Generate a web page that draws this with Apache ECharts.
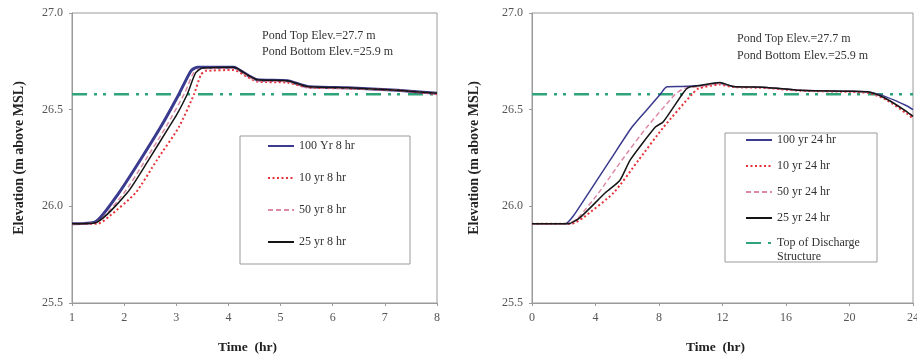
<!DOCTYPE html>
<html>
<head>
<meta charset="utf-8">
<script src="https://cdn.jsdelivr.net/npm/echarts@6/dist/echarts.min.js"></script>
<style>
  html, body { margin: 0; padding: 0; background: #fff; }
  #chart { width: 917px; height: 357px; }
</style>
</head>
<body>
<div id="chart"></div>
<script>
// ---- data ----
const yTicks = [25.5, 26.0, 26.5, 27.0];
const dischargeTop = 26.58;

// 8 hr storms (left panel)
const t100_8 = [1, 1.45, 1.9, 2.31, 2.7, 3.05, 3.28, 3.4, 4.1, 4.36, 4.55, 5.13, 5.51, 6.28, 7.24, 8];
const e100_8 = [25.91, 25.92, 26.07, 26.24, 26.41, 26.58, 26.7, 26.72, 26.72, 26.68, 26.655, 26.65, 26.62, 26.613, 26.6, 26.585];
const t10_8 = [1, 1.5, 1.7, 2.22, 2.63, 3.05, 3.34, 3.47, 3.56, 4.1, 4.36, 4.55, 5.13, 5.51, 6.28, 7.24, 8];
const e10_8 = [25.91, 25.91, 25.945, 26.07, 26.24, 26.41, 26.58, 26.68, 26.7, 26.705, 26.67, 26.645, 26.64, 26.615, 26.61, 26.6, 26.58];
const t50_8 = [1, 1.45, 2.0, 2.41, 2.8, 3.15, 3.33, 3.45, 4.1, 4.36, 4.55, 5.13, 5.51, 6.28, 7.24, 8];
const e50_8 = [25.91, 25.915, 26.07, 26.24, 26.41, 26.58, 26.69, 26.71, 26.715, 26.675, 26.65, 26.645, 26.617, 26.61, 26.6, 26.583];
const t25_8 = [1, 1.45, 2.06, 2.47, 2.86, 3.0, 3.21, 3.37, 3.5, 4.1, 4.36, 4.55, 5.13, 5.51, 6.28, 7.24, 8];
const e25_8 = [25.91, 25.915, 26.07, 26.24, 26.41, 26.47, 26.58, 26.69, 26.715, 26.72, 26.68, 26.655, 26.65, 26.62, 26.613, 26.6, 26.585];

// 24 hr storms (right panel)
const t100_24 = [0, 2.1, 2.6, 3.57, 4.93, 6.3, 7.24, 8.08, 8.5, 9.45, 10.58, 11.84, 12.66, 14.78, 16.88, 20.03, 21.29, 22.34, 23.6, 24];
const e100_24 = [25.91, 25.91, 25.95, 26.07, 26.24, 26.41, 26.5, 26.58, 26.618, 26.62, 26.625, 26.636, 26.62, 26.615, 26.6, 26.595, 26.59, 26.565, 26.52, 26.5];
const t10_24 = [0, 2.5, 3.2, 5.14, 6.72, 8.29, 10.08, 10.5, 11.84, 12.66, 14.78, 16.88, 20.03, 21.29, 22.34, 23.6, 24];
const e10_24 = [25.91, 25.91, 25.94, 26.07, 26.24, 26.41, 26.58, 26.61, 26.63, 26.617, 26.612, 26.598, 26.592, 26.585, 26.55, 26.48, 26.455];
const t50_24 = [0, 2.3, 2.9, 4.2, 5.67, 7.24, 9.03, 9.6, 10.58, 11.84, 12.66, 14.78, 16.88, 20.03, 21.29, 22.34, 23.6, 24];
const e50_24 = [25.91, 25.91, 25.94, 26.07, 26.24, 26.41, 26.58, 26.61, 26.62, 26.635, 26.62, 26.614, 26.6, 26.594, 26.59, 26.555, 26.49, 26.465];
const t25_24 = [0, 2.3, 3.0, 4.62, 5.54, 6.19, 7.77, 8.27, 9.51, 9.87, 10.58, 11.84, 12.66, 14.78, 16.88, 20.03, 21.29, 22.34, 23.6, 24];
const e25_24 = [25.91, 25.91, 25.94, 26.07, 26.135, 26.24, 26.41, 26.437, 26.585, 26.615, 26.625, 26.64, 26.62, 26.615, 26.6, 26.595, 26.59, 26.555, 26.49, 26.465];

const pairs = (t, e) => t.map((x, i) => [x, e[i]]);

const serif = "'Liberation Serif', 'Times New Roman', serif";
const frame = "#9a9a9a";
const dashDot = [15, 7, 3, 6, 3, 8];

function axisPair(gi, xmin, xmax, xint, nameGapY) {
  return {
    x: {
      type: "value", gridIndex: gi, min: xmin, max: xmax, interval: xint,
      name: "Time  (hr)", nameLocation: "middle", nameGap: 38,
      nameTextStyle: { fontFamily: serif, fontWeight: "bold", fontSize: 13.5, color: "#222", padding: [0, 14, 0, 0] },
      axisLine: { lineStyle: { color: frame } },
      axisTick: { show: true, length: 3, lineStyle: { color: frame } },
      axisLabel: { fontFamily: serif, fontSize: 12, color: "#555", margin: 9 },
      splitLine: { show: false },
    },
    y: {
      type: "value", gridIndex: gi, min: 25.5, max: 27.0, interval: 0.5,
      name: "Elevation (m above MSL)", nameLocation: "middle", nameGap: nameGapY,
      nameTextStyle: { fontFamily: serif, fontWeight: "bold", fontSize: 14, color: "#222" },
      axisLine: { show: true, lineStyle: { color: frame } },
      axisTick: { show: true, length: 3, lineStyle: { color: frame } },
      axisLabel: { fontFamily: serif, fontSize: 12, color: "#555", margin: 9, formatter: (v) => v.toFixed(1) },
      splitLine: { show: false },
    },
  };
}

const left = axisPair(0, 1, 8, 1, 46);
const right = axisPair(1, 0, 24, 4, 51);

function line(name, gi, t, e, color, width, type, extra) {
  return Object.assign({
    name, type: "line", xAxisIndex: gi, yAxisIndex: gi,
    data: pairs(t, e), symbol: "none", smooth: 0.2,
    lineStyle: { color, width, type }, itemStyle: { color },
    z: 3,
  }, extra || {});
}

const blue = "#3a3a8e", red = "#e8323a", pink = "#dc8aa6", black = "#151515", green = "#2fa37a";
const legendText = { fontFamily: serif, fontSize: 12, color: "#333" };

const chart = echarts.init(document.getElementById("chart"));
chart.setOption({
  animation: false,
  backgroundColor: "#fff",
  grid: [
    { left: 72, top: 13, width: 365, height: 290, outerBoundsMode: "none", show: true, borderColor: frame, borderWidth: 1, backgroundColor: "#fff" },
    { left: 532, top: 13, width: 381, height: 290, outerBoundsMode: "none", show: true, borderColor: frame, borderWidth: 1, backgroundColor: "#fff" },
  ],
  xAxis: [left.x, right.x],
  yAxis: [left.y, right.y],
  legend: [
    {
      data: ["100 Yr 8 hr", "10 yr 8 hr", "50 yr 8 hr", "25 yr 8 hr"],
      orient: "vertical", left: 267, top: 140, padding: 0, itemWidth: 26, itemHeight: 10, itemGap: 20,
      itemStyle: { opacity: 0 }, textStyle: legendText,
    },
    {
      data: ["100 yr 24 hr", "10 yr 24 hr", "50 yr 24 hr", "25 yr 24 hr"],
      orient: "vertical", left: 745, top: 134, padding: 0, itemWidth: 26, itemHeight: 10, itemGap: 14,
      itemStyle: { opacity: 0 }, textStyle: legendText,
    },
    {
      data: ["Top of Discharge Structure"],
      orient: "vertical", left: 745, top: 222, padding: 0, itemWidth: 26, itemHeight: 10,
      itemStyle: { opacity: 0 },
      formatter: () => "\nTop of Discharge\nStructure",
      textStyle: Object.assign({ lineHeight: 14 }, legendText),
    },
  ],
  graphic: [
    { type: "rect", shape: { x: 240, y: 136, width: 170, height: 128 }, style: { fill: "none", stroke: frame, lineWidth: 1 }, z: 1 },
    { type: "rect", shape: { x: 725, y: 133, width: 152, height: 129 }, style: { fill: "none", stroke: frame, lineWidth: 1 }, z: 1 },
    { type: "text", left: 262, top: 28, style: { text: "Pond Top Elev.=27.7 m\nPond Bottom Elev.=25.9 m", fontFamily: serif, fontSize: 12, lineHeight: 16, fill: "#333" } },
    { type: "text", left: 737, top: 30, style: { text: "Pond Top Elev.=27.7 m\nPond Bottom Elev.=25.9 m", fontFamily: serif, fontSize: 12, lineHeight: 17, fill: "#333" } },
  ],
  series: [
    line("Top of Discharge Structure", 0, [1, 8], [dischargeTop, dischargeTop], green, 2.5, dashDot, { smooth: false, z: 2 }),
    line("100 Yr 8 hr", 0, t100_8, e100_8, blue, 3, "solid"),
    line("10 yr 8 hr", 0, t10_8, e10_8, red, 2, [2, 2.5], { z: 4 }),
    line("50 yr 8 hr", 0, t50_8, e50_8, pink, 1.5, [5, 3], { z: 5 }),
    line("25 yr 8 hr", 0, t25_8, e25_8, black, 1.5, "solid", { z: 6 }),

    line("Top of Discharge Structure", 1, [0, 24], [dischargeTop, dischargeTop], green, 2.5, dashDot, { smooth: false, z: 2 }),
    line("100 yr 24 hr", 1, t100_24, e100_24, blue, 1.5, "solid"),
    line("10 yr 24 hr", 1, t10_24, e10_24, red, 2, [2, 2.5], { z: 4 }),
    line("50 yr 24 hr", 1, t50_24, e50_24, pink, 1.5, [5, 3], { z: 5 }),
    line("25 yr 24 hr", 1, t25_24, e25_24, black, 1.5, "solid", { z: 6 }),
  ],
});
</script>
</body>
</html>
